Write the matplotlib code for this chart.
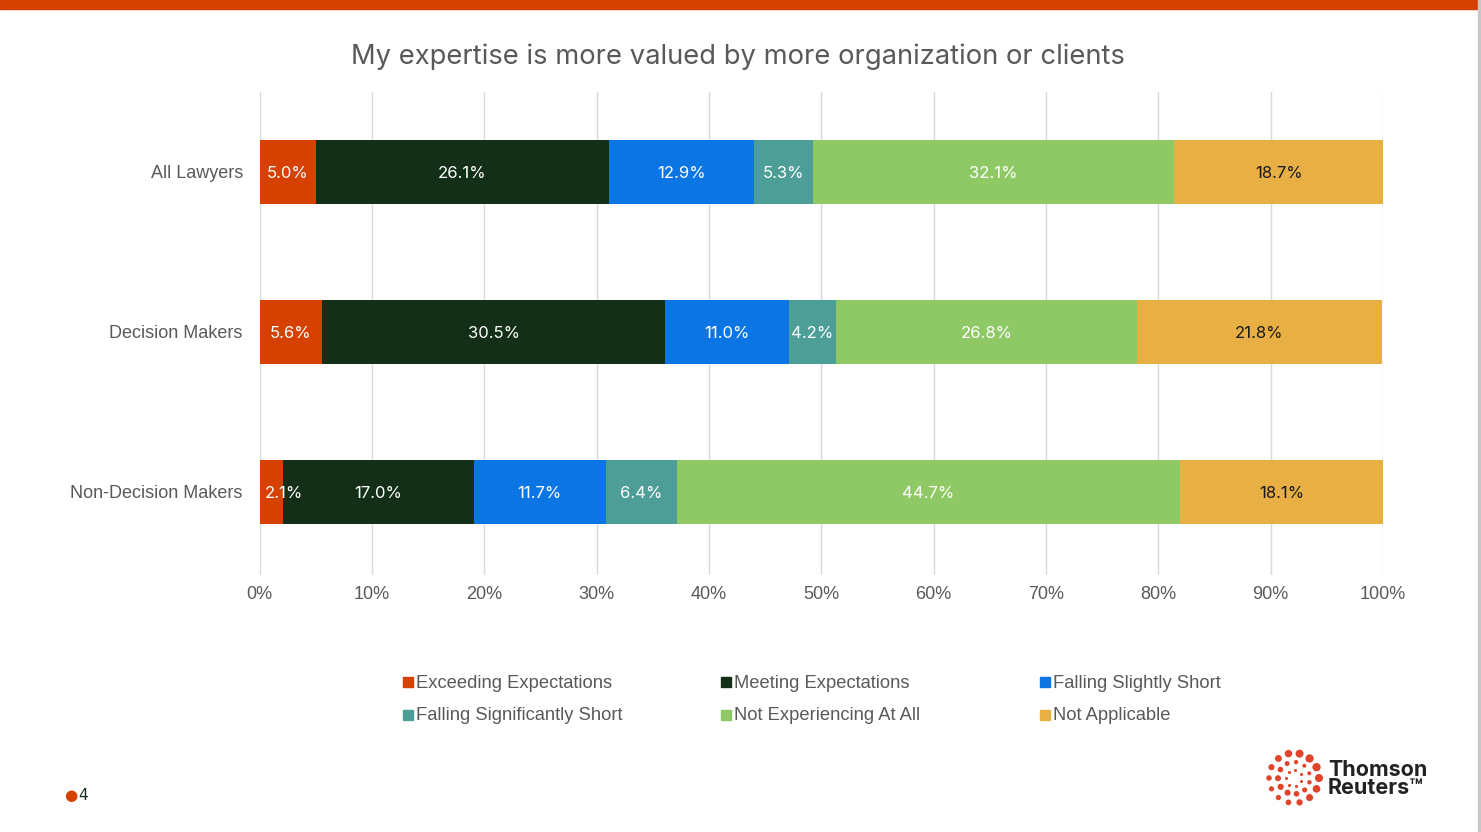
import numpy as np
import matplotlib
matplotlib.use("Agg")
import matplotlib.pyplot as plt
from matplotlib.patches import Rectangle

groups = ["All Lawyers", "Decision Makers", "Non-Decision Makers"]
series = ["Exceeding Expectations", "Meeting Expectations", "Falling Slightly Short",
          "Falling Significantly Short", "Not Experiencing At All", "Not Applicable"]
exceeding = [5.0, 5.6, 2.1]
meeting = [26.1, 30.5, 17.0]
slightly = [12.9, 11.0, 11.7]
significantly = [5.3, 4.2, 6.4]
not_exp = [32.1, 26.8, 44.7]
not_app = [18.7, 21.8, 18.1]
values = [exceeding, meeting, slightly, significantly, not_exp, not_app]

colors = ["#D64000", "#132F17", "#0A75E3", "#4C9E96", "#8FC965", "#E8AF45"]
label_colors = ["white", "white", "white", "white", "white", "#1a1a1a"]

W, H = 1481, 832
fig = plt.figure(figsize=(W / 100, H / 100), dpi=100)

# top orange band and right border
fig.add_artist(Rectangle((0, 1 - 9 / H), 1478 / W, 9 / H, color="#D64000", transform=fig.transFigure))
fig.add_artist(Rectangle((1478 / W, 0), 2 / W, 1, color="#c8c8c8", transform=fig.transFigure))

ax = fig.add_axes([259.5 / W, 1 - 575 / H, (1383 - 259.5) / W, (575 - 92) / H])
y = np.arange(len(groups))
left = np.zeros(len(groups))
for vals, col, lc in zip(values, colors, label_colors):
    v = np.array(vals) / 100
    bars = ax.barh(y, v, left=left, height=0.4, color=col, zorder=3)
    for b, val in zip(bars, vals):
        yc = b.get_y() + b.get_height() / 2 + 0.01
        if val < 3:
            # narrow segment: label starts inside the bar and runs over
            ax.text(b.get_x() + 0.005, yc, f"{val:.1f}%", ha="left", va="center",
                    color=lc, fontsize=12, family="Inter", zorder=4)
        else:
            ax.text(b.get_x() + b.get_width() / 2, yc, f"{val:.1f}%", ha="center",
                    va="center", color=lc, fontsize=12, family="Inter", zorder=4)
    left += v

ax.set_xlim(0, 1)
ax.set_ylim(2.52, -0.5)
ax.set_xticks(np.arange(0, 1.01, 0.1))
ax.set_xticklabels([f"{int(t)}%" for t in np.arange(0, 101, 10)])
ax.set_yticks(y)
ax.set_yticklabels(groups)
ax.tick_params(length=0, labelsize=13, labelcolor="#595959", pad=12)
ax.tick_params(axis="x", pad=8)
for lab in ax.get_xticklabels() + ax.get_yticklabels():
    lab.set_family("Liberation Sans")
ax.grid(axis="x", color="#d9d9d9", lw=1, zorder=0)
for s in ax.spines.values():
    s.set_visible(False)

fig.text(738 / W, 1 - 57 / H, "My expertise is more valued by more organization or clients",
         ha="center", va="center", fontsize=19.7, color="#595959", family="Inter")

# legend laid out in fixed-width columns
col_x = [403, 721, 1040]
row_y = [683, 716]
for i, (name, col) in enumerate(zip(series, colors)):
    xpx = col_x[i % 3]
    ypx = row_y[i // 3]
    fig.add_artist(Rectangle((xpx / W, 1 - (ypx + 4) / H), 10 / W, 10 / H,
                             color=col, transform=fig.transFigure))
    fig.text((xpx + 13) / W, 1 - ypx / H, name, ha="left", va="center",
             fontsize=13.2, color="#595959", family="Liberation Sans")

# page number
fig.text(71 / W, 1 - 795 / H, "\u25cf", ha="center", va="center", fontsize=11, color="#D64000")
fig.text(78 / W, 1 - 795 / H, "4", ha="left", va="center", fontsize=11, color="#132F17")

# logo
lax = fig.add_axes([1264 / W, 1 - 808 / H, 60 / W, 60 / H])
lax.set_xlim(-30, 30)
lax.set_ylim(-30, 30)
lax.axis("off")
n_out = 14
ang = np.linspace(0, 2 * np.pi, n_out, endpoint=False)
sz = 14 + 22 * (0.5 + 0.5 * np.cos(ang - 0.6))
lax.scatter(25 * np.cos(ang), 25 * np.sin(ang), s=sz, color="#E0442A", lw=0)
n_mid = 11
ang2 = np.linspace(0.3, 2 * np.pi + 0.3, n_mid, endpoint=False)
sz2 = 8 + 12 * (0.5 + 0.5 * np.cos(ang2 + 2.5))
lax.scatter(16 * np.cos(ang2), 16 * np.sin(ang2), s=sz2, color="#E0442A", lw=0)
n_in = 7
ang3 = np.linspace(0.5, 2 * np.pi + 0.5, n_in, endpoint=False)
lax.scatter(8 * np.cos(ang3), 8 * np.sin(ang3), s=5, color="#E0442A", lw=0)
fig.text(1328 / W, 1 - 779 / H, "Thomson\nReuters\u2122", ha="left", va="center",
         fontsize=15.5, fontweight="bold", color="#222222", family="Inter", linespacing=0.85)

fig.savefig("out.png", dpi=100, facecolor="white")
